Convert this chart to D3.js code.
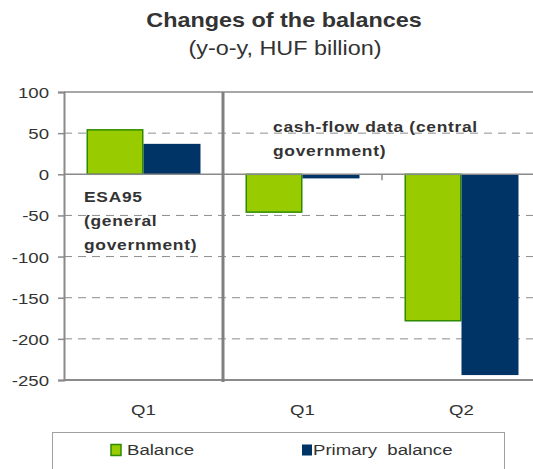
<!DOCTYPE html>
<html>
<head>
<meta charset="utf-8">
<script src="https://cdn.jsdelivr.net/npm/d3@7"></script>
<style>
  html, body { margin: 0; padding: 0; background: #fff; }
  svg { display: block; font-family: "Liberation Sans", Arial, sans-serif; }
</style>
</head>
<body>
<svg id="chart" width="533" height="469"></svg>
<script>
// Categories: first group is ESA95 (general government), the rest cash-flow (central government)
const categories = ["ESA95 Q1", "CF Q1", "CF Q2"];
const categoryLabels = ["Q1", "Q1", "Q2"];
const seriesNames = ["Balance", "Primary balance"];
const balance = [54, -46, -178];
const primaryBalance = [37, -5, -244];
const yTicks = [100, 50, 0, -50, -100, -150, -200, -250];

const colors = { "Balance": "#99cc00", "Primary balance": "#003366" };
const strokes = { "Balance": "#2e8b00", "Primary balance": "#003366" };
const textColor = "#333333";
const gridColor = "#8c8c8c";
const sx = 1.2; // horizontal widening of the text

const svg = d3.select("#chart");

const plot = { left: 64, top: 92, bottom: 380, step: 159 };

const x = d3.scaleBand()
  .domain(categories)
  .range([plot.left, plot.left + plot.step * categories.length])
  .paddingInner(0).paddingOuter(0);

const xSub = d3.scaleBand()
  .domain(seriesNames)
  .range([0, x.bandwidth()])
  .paddingInner(0)
  .paddingOuter(0.395);

const y = d3.scaleLinear().domain([-250, 100]).range([plot.bottom, plot.top]);

// helper for horizontally widened text
function stretchedText(sel, tx, ty, str, opts) {
  const t = sel.append("text")
    .attr("transform", `translate(${tx},${ty}) scale(${sx},1)`)
    .attr("fill", opts.fill || textColor)
    .attr("font-size", opts.size)
    .attr("font-weight", opts.weight || "normal")
    .attr("text-anchor", opts.anchor || "start")
    .style("white-space", "pre")
    .text(str);
  if (opts.spacing) t.attr("letter-spacing", opts.spacing);
  return t;
}

// Title
stretchedText(svg, 284, 27, "Changes of the balances", { size: 19.5, weight: "bold", anchor: "middle" });
stretchedText(svg, 285, 55, "(y-o-y, HUF billion)", { size: 19.5, anchor: "middle" });

// Dashed gridlines
const gridVals = yTicks.filter(v => v !== 100 && v !== 0 && v !== -250);
svg.append("g").selectAll("line").data(gridVals).join("line")
  .attr("x1", plot.left).attr("x2", 533)
  .attr("y1", d => y(d)).attr("y2", d => y(d))
  .attr("stroke", gridColor).attr("stroke-width", 1)
  .attr("stroke-dasharray", "8,6");

// Bars
const rows = categories.map((c, i) => ({ cat: c, values: [
  { name: "Balance", value: balance[i] },
  { name: "Primary balance", value: primaryBalance[i] }
]}));

const groups = svg.append("g").selectAll("g").data(rows).join("g")
  .attr("transform", d => `translate(${x(d.cat)},0)`);

groups.selectAll("rect").data(d => d.values).join("rect")
  .attr("x", d => xSub(d.name) + (d.name === "Balance" ? 0.75 : 0))
  .attr("width", d => xSub.bandwidth() - (d.name === "Balance" ? 1.5 : 0))
  .attr("y", d => y(Math.max(0, d.value)))
  .attr("height", d => Math.abs(y(d.value) - y(0)))
  .attr("fill", d => colors[d.name])
  .attr("stroke", d => d.name === "Balance" ? strokes[d.name] : "none")
  .attr("stroke-width", 1.5);

// Frame: top line, left axis line, bottom line, zero line
const frame = svg.append("g").attr("stroke", "#8a8a8a").attr("fill", "none");
frame.append("line").attr("x1", plot.left).attr("x2", 533)
  .attr("y1", y(100)).attr("y2", y(100)).attr("stroke-width", 1.5);
frame.append("line").attr("x1", plot.left).attr("x2", 533)
  .attr("y1", y(-250)).attr("y2", y(-250)).attr("stroke-width", 2);
frame.append("line").attr("x1", plot.left).attr("x2", 533)
  .attr("y1", y(0)).attr("y2", y(0)).attr("stroke-width", 1.5);

// Category boundary ticks on the zero line
svg.append("g").selectAll("line").data(categories.slice(1)).join("line")
  .attr("x1", d => x(d) + x.bandwidth()).attr("x2", d => x(d) + x.bandwidth())
  .attr("y1", y(0)).attr("y2", y(0) + 6)
  .attr("stroke", "#8a8a8a").attr("stroke-width", 1.5);

// Y axis
const yAxis = svg.append("g")
  .attr("transform", `translate(${plot.left},0)`)
  .call(d3.axisLeft(y).tickValues(yTics()).tickSize(6).tickPadding(9).tickFormat(d3.format("d")));
function yTics() { return yTicks; }
yAxis.select(".domain").attr("stroke", "#8a8a8a").attr("stroke-width", 2);
yAxis.selectAll(".tick line").attr("stroke", "#8a8a8a").attr("stroke-width", 1.5);
yAxis.selectAll(".tick text").remove();
yAxis.selectAll(".tick").each(function(d) {
  stretchedText(d3.select(this), -15, 5.5, String(d), { size: 15.5, anchor: "end" });
});

// Separator between ESA95 and cash-flow groups
svg.append("line")
  .attr("x1", x(categories[1])).attr("x2", x(categories[1]))
  .attr("y1", y(100)).attr("y2", y(-250) + 2)
  .attr("stroke", "#808080").attr("stroke-width", 3);

// Category labels
categories.forEach((c, i) => {
  stretchedText(svg, x(c) + x.bandwidth() / 2, 415, categoryLabels[i], { size: 15.5, anchor: "middle" });
});

// Annotations
const ann1 = ["ESA95", "(general", "government)"];
ann1.forEach((s, i) => stretchedText(svg, 84, 202 + i * 24, s, { size: 14.5, weight: "bold", spacing: 0.6 }));
const ann2 = ["cash-flow data (central", "government)"];
ann2.forEach((s, i) => stretchedText(svg, 273, 132 + i * 24, s, { size: 14.5, weight: "bold", spacing: 0.6 }));

// Legend
const legend = svg.append("g");
legend.append("rect")
  .attr("x", 52.5).attr("y", 432.5).attr("width", 452).attr("height", 60)
  .attr("fill", "#fff").attr("stroke", "#a0a0a0").attr("stroke-width", 1);
const legendItems = [
  { name: "Balance", label: "Balance", sx: 111, tx: 127 },
  { name: "Primary balance", label: "Primary  balance", sx: 302, tx: 313 }
];
legendItems.forEach(it => {
  legend.append("rect")
    .attr("x", it.sx).attr("y", 444.5).attr("width", 10).attr("height", 11)
    .attr("fill", colors[it.name])
    .attr("stroke", it.name === "Balance" ? strokes[it.name] : "none")
    .attr("stroke-width", 1.5);
  stretchedText(legend, it.tx, 455, it.label, { size: 15.5 });
});
</script>
</body>
</html>
